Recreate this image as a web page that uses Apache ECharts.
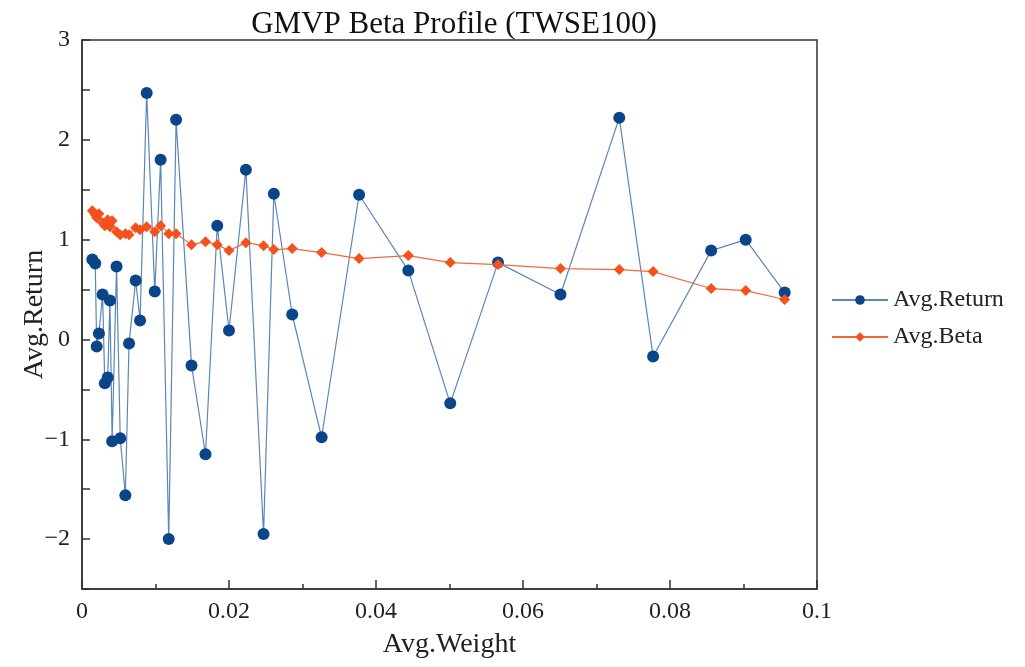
<!DOCTYPE html>
<html>
<head>
<meta charset="utf-8">
<script src="https://cdn.jsdelivr.net/npm/echarts@6/dist/echarts.min.js"></script>
<style>
html,body{margin:0;padding:0;background:#fff;}
#main{width:1025px;height:667px;}
</style>
</head>
<body>
<div id="main"></div>
<script>
// avg weight of each group (x)
var weights=[0.0014,0.0018,0.0020,0.0023,0.0028,0.0031,0.0035,0.0038,0.0041,0.0047,
	0.0052,0.0059,0.0064,0.0073,0.0079,0.0088,0.0099,0.0107,0.0118,0.0128,
	0.0149,0.0168,0.0184,0.0200,0.0223,0.0247,0.0261,0.0286,0.0326,0.0377,
	0.0444,0.0501,0.0566,0.0651,0.0731,0.0777,0.0856,0.0903,0.0956];
var returns=[0.80,0.76,-0.07,0.06,0.45,-0.44,-0.38,0.39,-1.02,0.73,
	-0.99,-1.56,-0.04,0.59,0.19,2.47,0.48,1.80,-2.00,2.20,
	-0.26,-1.15,1.14,0.09,1.70,-1.95,1.46,0.25,-0.98,1.45,
	0.69,-0.64,0.77,0.45,2.22,-0.17,0.89,1.00,0.47];
var betas=[1.29,1.25,1.22,1.26,1.17,1.14,1.20,1.13,1.19,1.08,
	1.05,1.06,1.05,1.12,1.10,1.13,1.08,1.14,1.06,1.06,
	0.95,0.98,0.95,0.89,0.97,0.94,0.90,0.91,0.87,0.81,
	0.84,0.77,0.75,0.71,0.70,0.68,0.51,0.49,0.40];

var font='Liberation Serif';
var returnData=[],betaData=[];
for(var i=0;i<weights.length;i++){
	returnData.push([weights[i],returns[i]]);
	betaData.push([weights[i],betas[i]]);
}

var myChart=echarts.init(document.getElementById('main'));
var option={
	animation:false,
	backgroundColor:'#fff',
	title:{
		text:'GMVP Beta Profile (TWSE100)',
		left:449,
		textAlign:'center',
		top:4,
		textStyle:{fontFamily:font,fontSize:31,fontWeight:'normal',color:'#111'}
	},
	legend:{
		orient:'vertical',
		left:826,
		top:283,
		itemWidth:56,
		itemHeight:12,
		itemGap:13,
		textStyle:{fontFamily:font,fontSize:24,color:'#222'},
		data:['Avg.Return','Avg.Beta']
	},
	grid:{
		left:82,right:208,top:40,bottom:78,
		outerBoundsMode:'none',
		show:true,
		borderColor:'#333',
		borderWidth:1.5,
		backgroundColor:'transparent'
	},
	xAxis:{
		type:'value',
		min:0,max:0.1,interval:0.02,
		name:'Avg.Weight',
		nameLocation:'middle',
		nameGap:42,
		nameTextStyle:{fontFamily:font,fontSize:28,color:'#222'},
		axisLine:{show:true,onZero:false,lineStyle:{color:'#333',width:1.5}},
		axisTick:{show:true,inside:true,length:9,lineStyle:{color:'#333',width:1.5}},
		minorTick:{show:true,splitNumber:2,length:5,lineStyle:{color:'#333',width:1.5}},
		splitLine:{show:false},
		axisLabel:{
			fontFamily:font,fontSize:24,color:'#222',margin:11,
			formatter:function(v){return v===0?'0':(+v.toFixed(2)).toString();}
		}
	},
	yAxis:{
		type:'value',
		min:-2.5,max:3,interval:0.5,
		name:'Avg.Return',
		nameLocation:'middle',
		nameGap:33,
		nameMoveOverlap:false,
		nameTextStyle:{fontFamily:font,fontSize:28,color:'#222'},
		axisLine:{show:true,onZero:false,lineStyle:{color:'#333',width:1.5}},
		axisTick:{show:true,inside:true,length:8,lineStyle:{color:'#333',width:1.5}},
		splitLine:{show:false},
		axisLabel:{
			fontFamily:font,fontSize:24,color:'#222',margin:12,
			formatter:function(v){
				if(Math.abs(v-Math.round(v))>1e-9) return '';
				return v<0?'\u2212'+(-v):String(v);
			}
		}
	},
	series:[
		{
			name:'Avg.Return',
			type:'line',
			symbol:'circle',
			symbolSize:12,
			itemStyle:{color:'#0a4589'},
			lineStyle:{color:'#5a86b8',width:1.2},
			z:2,
			data:returnData
		},
		{
			name:'Avg.Beta',
			type:'line',
			symbol:'diamond',
			symbolSize:11,
			itemStyle:{color:'#f5511c'},
			lineStyle:{color:'#f26a3c',width:1.2},
			z:3,
			data:betaData
		}
	]
};
myChart.setOption(option);
</script>
</body>
</html>
